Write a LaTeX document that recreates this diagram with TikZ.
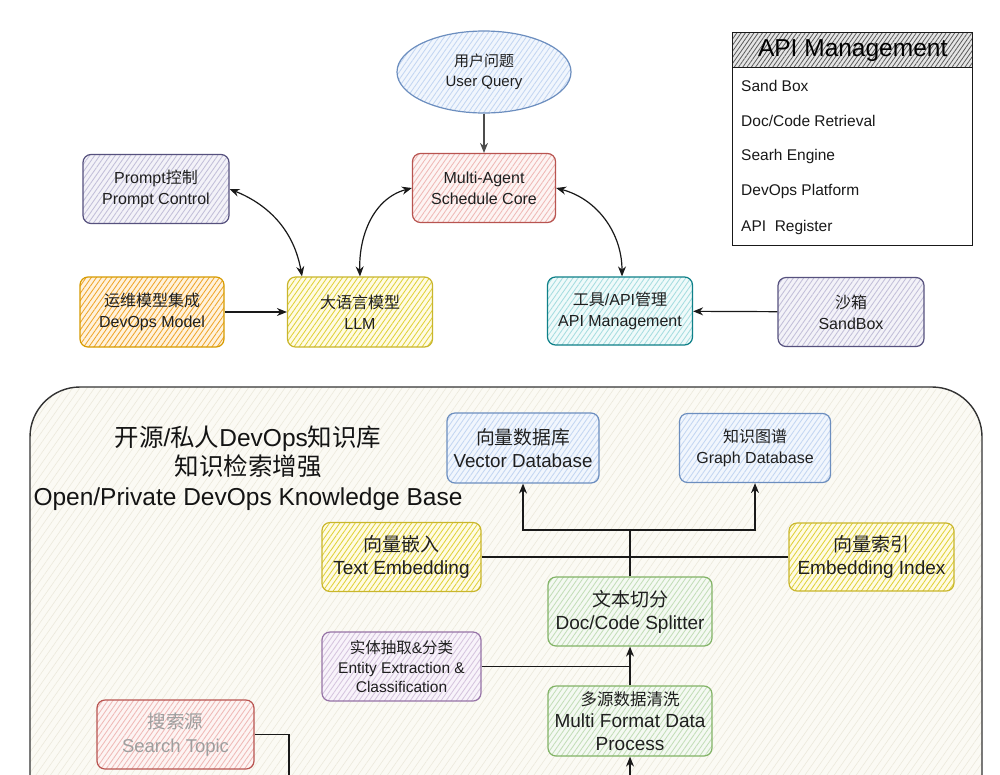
\documentclass[tikz,border=0pt]{standalone}
\usepackage{fontspec}
\setmainfont{Liberation Sans}
\newfontfamily\cjk{Noto Sans CJK SC}
\usetikzlibrary{shapes.geometric,patterns.meta,arrows.meta,calc}
\definecolor{bS}{HTML}{6C8EBF}\definecolor{bF}{HTML}{F1F6FD}\definecolor{bH}{HTML}{C3D6F2}
\definecolor{rS}{HTML}{B85450}\definecolor{rF}{HTML}{FDF4F3}\definecolor{rH}{HTML}{EFB9B6}
\definecolor{pS}{HTML}{56517E}\definecolor{pF}{HTML}{F3F2F8}\definecolor{pH}{HTML}{C2BFD9}
\definecolor{oS}{HTML}{D79B00}\definecolor{oF}{HTML}{FFF2DC}\definecolor{oH}{HTML}{EFA52A}
\definecolor{yS}{HTML}{C9B62C}\definecolor{yF}{HTML}{FFFBE3}\definecolor{yH}{HTML}{E0D23A}
\definecolor{tS}{HTML}{0E8088}\definecolor{tF}{HTML}{EFFAFA}\definecolor{tH}{HTML}{A6DDE0}
\definecolor{gS}{HTML}{82B366}\definecolor{gF}{HTML}{F4F9F2}\definecolor{gH}{HTML}{C3DEB8}
\definecolor{eS}{HTML}{9673A6}\definecolor{eF}{HTML}{F8F3FA}\definecolor{eH}{HTML}{D5C4DE}
\definecolor{kF}{HTML}{FBFAF4}\definecolor{kH}{HTML}{ECE9DC}
\tikzset{
  base/.style={rounded corners=8pt, line width=1.2pt, align=center, text=black!88, inner sep=2pt},
  hb/.style n args={3}{base, draw=#1, preaction={fill=#2},
     preaction={pattern={Lines[angle=55,distance=4.2pt,line width=0.85pt]}, pattern color=#3}},
  fa/.style={font=\fontsize{16}{21}\selectfont},
  fb/.style={font=\fontsize{19}{23}\selectfont},
  arr/.style={-{Stealth[length=10pt,width=8pt]}, line width=1.2pt, black!90},
  arrb/.style={{Stealth[length=10pt,width=8pt]}-{Stealth[length=10pt,width=8pt]}, line width=1.2pt, black!90},
  ln/.style={line width=1.2pt, black!90},
  item/.style={anchor=west, font=\fontsize{15.5}{18}\selectfont, text=black!90, inner sep=0pt}
}
\begin{document}
\begin{tikzpicture}[x=1pt,y=-1pt]
\useasboundingbox (0,0) rectangle (1000,774);
\clip (0,0) rectangle (1000,774);
\fill[white] (0,0) rectangle (1000,774);

% knowledge base container
\path[preaction={fill=kF}, preaction={pattern={Lines[angle=55,distance=6pt,line width=0.6pt]}, pattern color=kH},
      draw=black!80, line width=1.4pt, rounded corners=50pt] (30,387) rectangle (982,900);

% top part
\node[hb={bS}{bF}{bH}, ellipse, minimum width=174pt, minimum height=82pt, font=\fontsize{15}{20}\selectfont] (uq) at (484,72) {{\cjk 用户问题}\\User Query};
\node[hb={rS}{rF}{rH}, minimum width=143pt, minimum height=69pt, fa] (mas) at (484,188) {Multi-Agent\\Schedule Core};
\node[hb={pS}{pF}{pH}, minimum width=146pt, minimum height=69pt, fa] (pc) at (156,189) {Prompt{\cjk 控制}\\Prompt Control};
\node[hb={oS}{oF}{oH}, minimum width=144pt, minimum height=70pt, fa] (dm) at (152,312) {{\cjk 运维模型集成}\\DevOps Model};
\node[hb={yS}{yF}{yH}, minimum width=145pt, minimum height=70pt, fa] (llm) at (360,312) {{\cjk 大语言模型}\\LLM};
\node[hb={tS}{tF}{tH}, minimum width=145pt, minimum height=68pt, fa] (api) at (620,311) {{\cjk 工具}/API{\cjk 管理}\\API Management};
\node[hb={pS}{pF}{pH}, minimum width=146pt, minimum height=69pt, fa] (sb) at (851,312) {{\cjk 沙箱}\\SandBox};

% API Management table
\node[draw=black!90, line width=1.4pt, minimum width=240pt, minimum height=213pt, anchor=north west, inner sep=0pt] (tbl) at (732,32) {};
\node[draw=black!90, line width=1.4pt, minimum width=240pt, minimum height=35pt, anchor=north west, inner sep=0pt,
      preaction={fill=black!10}, preaction={pattern={Lines[angle=55,distance=3.5pt,line width=0.8pt]}, pattern color=black!65},
      font=\fontsize{24.5}{28}\selectfont, text=black] (tblh) at (732,32) {API Management};
\node[item] (t1) at (741,86) {Sand Box};
\node[item] (t2) at (741,121) {Doc/Code Retrieval};
\node[item] (t3) at (741,156) {Searh Engine};
\node[item] (t4) at (741,191) {DevOps Platform};
\node[item] (t5) at (741,227) {API\ \ Register};

% top connectors
\draw[arr, black!70] (uq) -- (mas);
\draw[arrb] (pc.east) to[out=-22,in=100] ([xshift=-58pt]llm.north);
\draw[arrb] (llm.north) to[out=92,in=195] (mas.west);
\draw[arrb] (mas.east) to[out=-15,in=90] ([xshift=2pt]api.north);
\draw[arr] (dm) -- (llm);
\draw[arr] (sb) -- (api);

% knowledge base title
\node[font=\fontsize{24.5}{29.5}\selectfont, align=center, text=black!92] (kbt) at (248,468)
  {{\cjk 开源}/{\cjk 私人}DevOps{\cjk 知识库}\\{\cjk 知识检索增强}\\Open/Private DevOps Knowledge Base};

% bottom nodes
\node[hb={bS}{bF}{bH}, minimum width=152pt, minimum height=70pt, font=\fontsize{18.8}{22.5}\selectfont] (vdb) at (523,448) {{\cjk 向量数据库}\\Vector Database};
\node[hb={bS}{bF}{bH}, minimum width=151pt, minimum height=69pt, font=\fontsize{16}{20.5}\selectfont] (gdb) at (755,448) {{\cjk 知识图谱}\\Graph Database};
\node[hb={yS}{yF}{yH}, minimum width=159pt, minimum height=69pt, fb] (te) at (401.5,557) {{\cjk 向量嵌入}\\Text Embedding};
\node[hb={yS}{yF}{yH}, minimum width=165pt, minimum height=68pt, fb] (ei) at (871.5,557) {{\cjk 向量索引}\\Embedding Index};
\node[hb={gS}{gF}{gH}, minimum width=164pt, minimum height=69pt, fb] (sp) at (630,611.5) {{\cjk 文本切分}\\Doc/Code Splitter};
\node[hb={eS}{eF}{eH}, minimum width=159pt, minimum height=69pt, font=\fontsize{15.5}{19.5}\selectfont] (ee) at (401.5,666.5) {{\cjk 实体抽取}\&{\cjk 分类}\\Entity Extraction \&\\Classification};
\node[hb={gS}{gF}{gH}, minimum width=164pt, minimum height=70pt, font=\fontsize{19}{22.5}\selectfont] (mf) at (630,721) {{\fontsize{16.5}{20}\selectfont\cjk 多源数据清洗}\\Multi Format Data\\Process};
\node[hb={rS}{rF}{rH}, minimum width=157pt, minimum height=69pt, font=\fontsize{18.5}{24}\selectfont, text=black!38] (st) at (175.5,734.5) {{\cjk 搜索源}\\Search Topic};

% bottom connectors
\coordinate (j1) at (630,530);
\draw[ln] (sp.north) -- (j1);
\draw[arr] (j1) -| (vdb.south);
\draw[arr] (j1) -| (gdb.south);
\draw[ln] (te.east) -- (ei.west);
\coordinate (j2) at (sp.south |- ee.east);
\draw[ln] (ee.east) -- (j2);
\draw[arr] (mf.north) -- (sp.south);
\coordinate (mfin) at (630,800);
\draw[arr] (mfin) -- (mf.south);
\coordinate (stout) at (289,800);
\draw[ln] (st.east) -| (stout);
\end{tikzpicture}
\end{document}
